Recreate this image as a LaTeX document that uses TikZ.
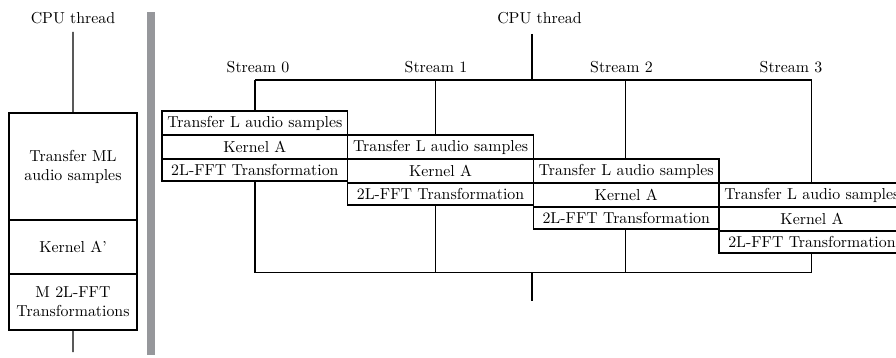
\documentclass[tikz,border=0pt]{standalone}
\definecolor{barcol}{RGB}{150,151,155}
\begin{document}
\begin{tikzpicture}[x=0.6306pt,y=-0.6306pt,line width=0.9pt,
  every node/.style={font=\fontsize{10}{12}\selectfont},
  lbl/.style={anchor=base,inner sep=0pt},
  task/.style={draw,inner sep=0pt,outer sep=0pt,minimum width=117.1pt,anchor=north west},
  rowA/.style={task,minimum height=15.13pt},
  rowB/.style={task,minimum height=13.87pt},
  cpubox/.style={draw,inner sep=0pt,outer sep=0pt,minimum width=80.7pt,anchor=north west,align=center}]
\useasboundingbox (0,0) rectangle (896,358);

% ---- single CPU thread (left) ----
\node[lbl] (cpuL) at (73,24) {CPU thread};
\coordinate (lstart) at (73,32);
\coordinate (lend) at (73,352);
\node[cpubox,minimum height=67.5pt] (lb1) at (9,113) {Transfer ML\\audio samples};
\node[cpubox,minimum height=34.05pt] (lb2) at (lb1.south west) {Kernel A'};
\node[cpubox,minimum height=35.3pt] (lb3) at (lb2.south west) {M 2L-FFT\\Transformations};
\draw (lstart) -- (lb1.north);
\draw (lb3.south) -- (lend);

% ---- separator ----
\fill[barcol] (147,12) rectangle (155,355);

% ---- CPU thread with four streams (right) ----
\node[lbl] (cpuR) at (539.5,24) {CPU thread};
\coordinate (ftop) at (532,34);
\coordinate (fork) at (532,80);
\coordinate (join) at (532,272.7);
\coordinate (jend) at (532,301);

\coordinate (t0) at (255,80);
\coordinate (t1) at (435.7,80);
\coordinate (t2) at (625.7,80);
\coordinate (t3) at (811.7,80);
\coordinate (b0) at (255,272.7);
\coordinate (b3) at (811.7,272.7);

\node[lbl] (s0) at (258,72.5) {Stream 0};
\node[lbl] (s1) at (436,72.5) {Stream 1};
\node[lbl] (s2) at (621.5,72.5) {Stream 2};
\node[lbl] (s3) at (791,72.5) {Stream 3};

% stream 0
\node[rowA] (tr0) at (162,111) {Transfer L audio samples};
\node[rowA] (ka0) at (tr0.south west) {Kernel A};
\node[rowB] (ff0) at (ka0.south west) {2L-FFT Transformation};
% stream 1
\node[rowA] (tr1) at (tr0.south east) {Transfer L audio samples};
\node[rowA] (ka1) at (tr1.south west) {Kernel A};
\node[rowB] (ff1) at (ka1.south west) {2L-FFT Transformation};
% stream 2
\node[rowA] (tr2) at (tr1.south east) {Transfer L audio samples};
\node[rowA] (ka2) at (tr2.south west) {Kernel A};
\node[rowB] (ff2) at (ka2.south west) {2L-FFT Transformation};
% stream 3
\node[rowA] (tr3) at (tr2.south east) {Transfer L audio samples};
\node[rowA] (ka3) at (tr3.south west) {Kernel A};
\node[rowB] (ff3) at (ka3.south west) {2L-FFT Transformation};

% fork
\draw (ftop) -- (fork);
\draw (t0) -- (t3);
\draw (t0) -- (t0 |- tr0.north);
\draw (t1) -- (t1 |- tr1.north);
\draw (t2) -- (t2 |- tr2.north);
\draw (t3) -- (t3 |- tr3.north);

% join
\draw (t0 |- ff0.south) -- (b0);
\draw (t1 |- ff1.south) -- (t1 |- b0);
\draw (t2 |- ff2.south) -- (t2 |- b0);
\draw (t3 |- ff3.south) -- (b3);
\draw (b0) -- (b3);
\draw (join) -- (jend);
\end{tikzpicture}
\end{document}
